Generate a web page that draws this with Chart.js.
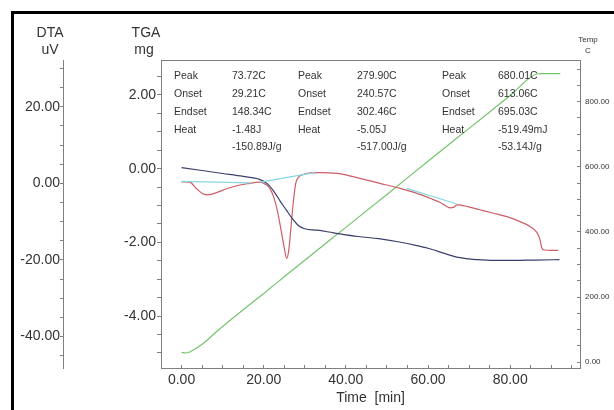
<!DOCTYPE html>
<html>
<head>
<meta charset="utf-8">
<script src="https://cdn.jsdelivr.net/npm/chart.js@4.4.1/dist/chart.umd.min.js"></script>
<style>
  html, body { margin: 0; padding: 0; background: #fff; }
  canvas { display: block; }
</style>
</head>
<body>
<canvas id="chart" width="614" height="410"></canvas>
<script>
// TGA mass loss (mg) against time (min)
const tgaTime = [0, 5, 10, 15, 19, 21, 22.5, 24, 25.5, 27, 28.5, 30, 33, 37, 43, 48, 53, 57, 60, 64, 67, 70, 72, 76, 81, 86, 92];
const tgaMass = [0.03, -0.05, -0.13, -0.21, -0.29, -0.42, -0.62, -0.88, -1.12, -1.36, -1.55, -1.63, -1.67, -1.74, -1.84, -1.90, -1.99, -2.08, -2.16, -2.30, -2.40, -2.45, -2.47, -2.49, -2.49, -2.48, -2.47];

// DTA signal (uV)
const dtaTime = [0, 2, 3.5, 5, 6.2, 8, 11, 14, 16, 19, 20.5, 21.5, 22.5, 23.3, 24.2, 25, 25.6, 26.1, 26.6, 27.2, 27.8, 28.5, 29.6, 31, 33.7, 37.8, 40, 43.4, 48.3, 53.2, 57, 60.5, 63, 65.4, 66.3, 67.1, 68, 72.6, 76, 79.2, 82, 84.9, 86.5, 87.2, 87.7, 88.2, 90, 91.7];
const dtaSignal = [0.4, 0.3, -1.2, -2.6, -3.0, -2.6, -1.4, -0.5, -0.1, 0.3, -0.3, -1.3, -3.8, -7.0, -12.0, -16.8, -19.6, -17.5, -12.0, -5.0, 0.0, 1.6, 2.3, 2.7, 2.8, 2.6, 2.2, 1.3, 0.0, -1.3, -2.5, -3.9, -5.0, -6.4, -6.2, -5.6, -5.7, -6.9, -7.8, -8.7, -9.8, -11.3, -12.8, -14.5, -16.8, -17.4, -17.5, -17.5];

// peak baselines (uV)
const base1Time = [0, 17];
const base1Signal = [0.5, 0.1];
const base2Time = [19.1, 29.6, 32.5];
const base2Signal = [0.3, 2.3, 2.8];
const base3Time = [54.8, 67.0];
const base3Signal = [-1.3, -5.4];

// furnace temperature (C)
const tempTime = [0, 1, 2, 3, 4.5, 6, 8, 12, 16, 20, 25, 30, 40, 50, 60, 70, 80, 86.5, 87.5, 92.2];
const tempValue = [30, 28, 31, 38, 50, 65, 88, 130, 171, 211, 262, 313, 414, 515, 617, 718, 819, 885, 886, 886];

// peak table
const peakLabels = ['Peak', 'Onset', 'Endset', 'Heat', ''];
const peakValues = [
  ['73.72C', '29.21C', '148.34C', '-1.48J', '-150.89J/g'],
  ['279.90C', '240.57C', '302.46C', '-5.05J', '-517.00J/g'],
  ['680.01C', '613.06C', '695.03C', '-519.49mJ', '-53.14J/g']
];

const FONT = '"Liberation Sans", Arial, sans-serif';
const AXIS = '#808080';
const toXY = (xs, ys) => xs.map((x, i) => ({ x, y: ys[i] }));
const onMultiple = (v, m) => Math.abs(v / m - Math.round(v / m)) < 1e-6;

const decor = {
  id: 'decor',
  afterDraw(chart) {
    const { ctx, chartArea, scales } = chart;
    ctx.save();
    // outer frame
    ctx.fillStyle = '#000';
    ctx.fillRect(11, 11, 3, 399);
    ctx.fillRect(11, 11, 603, 3);
    // top edge of plot box
    ctx.strokeStyle = AXIS;
    ctx.lineWidth = 1;
    ctx.beginPath();
    ctx.moveTo(chartArea.left, chartArea.top + 0.5);
    ctx.lineTo(chartArea.right, chartArea.top + 0.5);
    ctx.stroke();

    // axis headers
    ctx.fillStyle = '#333';
    ctx.textAlign = 'center';
    ctx.textBaseline = 'middle';
    ctx.font = '14px ' + FONT;
    ctx.fillText('DTA', scales.dta.right - 13, 33);
    ctx.fillText('uV', scales.dta.right - 13, 50);
    ctx.fillText('TGA', scales.tga.right - 15, 33);
    ctx.fillText('mg', scales.tga.right - 17, 50);
    ctx.font = '8px ' + FONT;
    ctx.fillText('Temp', scales.temp.left + 8, 40);
    ctx.fillText('C', scales.temp.left + 8, 51);

    // peak table
    ctx.textAlign = 'left';
    ctx.font = '10.5px ' + FONT;
    const rowY = [76, 94, 112, 130, 147];
    const colX = [[174, 232], [298, 357], [442, 498]];
    colX.forEach((c, k) => {
      peakLabels.forEach((lab, r) => {
        if (lab) ctx.fillText(lab, c[0], rowY[r]);
        ctx.fillText(peakValues[k][r], c[1], rowY[r]);
      });
    });
    ctx.restore();
  }
};

const lineStyle = { pointRadius: 0, borderWidth: 1.2, fill: false, cubicInterpolationMode: 'monotone' };

new Chart(document.getElementById('chart'), {
  type: 'line',
  data: {
    datasets: [
      { ...lineStyle, label: 'Baseline 1', data: toXY(base1Time, base1Signal), yAxisID: 'dta', borderColor: '#86d8e4' },
      { ...lineStyle, label: 'Baseline 2', data: toXY(base2Time, base2Signal), yAxisID: 'dta', borderColor: '#86d8e4' },
      { ...lineStyle, label: 'Baseline 3', data: toXY(base3Time, base3Signal), yAxisID: 'dta', borderColor: '#86d8e4' },
      { ...lineStyle, label: 'TGA', data: toXY(tgaTime, tgaMass), yAxisID: 'tga', borderColor: '#3c3f6c' },
      { ...lineStyle, label: 'DTA', data: toXY(dtaTime, dtaSignal), yAxisID: 'dta', borderColor: '#cc5e66' },
      { ...lineStyle, label: 'Temp', data: toXY(tempTime, tempValue), yAxisID: 'temp', borderColor: '#74c46c' }
    ]
  },
  options: {
    responsive: false,
    animation: false,
    layout: { padding: { top: 60, left: 0, right: 0, bottom: 0 } },
    plugins: { legend: { display: false }, tooltip: { enabled: false } },
    scales: {
      x: {
        type: 'linear',
        position: 'bottom',
        min: -5,
        max: 97,
        // negative tick length puts the marks inside the plot, as in the source
        grid: { drawOnChartArea: false, drawTicks: true, tickLength: -3, color: AXIS },
        border: { display: true, color: AXIS },
        ticks: {
          stepSize: 5,
          includeBounds: false,
          autoSkip: false,
          maxRotation: 0,
          padding: 7,
          color: '#333',
          font: { family: FONT, size: 14 },
          callback: v => onMultiple(v, 20) ? v.toFixed(2) : ''
        },
        title: { display: true, text: 'Time  [min]', color: '#333', font: { family: FONT, size: 14 }, padding: { top: 0, bottom: 3 } },
        afterFit: s => { s.height = 42; }
      },
      tga: {
        type: 'linear',
        position: 'left',
        weight: 0,
        min: -5.41,
        max: 2.95,
        grid: { drawOnChartArea: false, drawTicks: true, tickLength: 4, color: AXIS },
        border: { display: true, color: AXIS },
        ticks: {
          stepSize: 0.5,
          includeBounds: false,
          autoSkip: false,
          padding: 1,
          color: '#333',
          font: { family: FONT, size: 14 },
          callback: v => onMultiple(v, 2) ? v.toFixed(2) : ''
        },
        afterFit: s => { s.width = 98; }
      },
      dta: {
        type: 'linear',
        position: 'left',
        weight: 1,
        min: -48.2,
        max: 32.2,
        grid: { drawOnChartArea: false, drawTicks: true, tickLength: 3, color: AXIS },
        border: { display: true, color: AXIS },
        ticks: {
          stepSize: 5,
          includeBounds: false,
          autoSkip: false,
          padding: 0,
          color: '#333',
          font: { family: FONT, size: 14 },
          callback: v => onMultiple(v, 20) ? v.toFixed(2) : ''
        },
        afterFit: s => { s.width = 63; }
      },
      temp: {
        type: 'linear',
        position: 'right',
        min: -18,
        max: 928,
        grid: { drawOnChartArea: false, drawTicks: true, tickLength: -3, color: AXIS },
        border: { display: true, color: AXIS },
        ticks: {
          stepSize: 50,
          includeBounds: false,
          autoSkip: false,
          padding: 8,
          color: '#333',
          font: { family: FONT, size: 8 },
          callback: v => onMultiple(v, 200) ? v.toFixed(2) : ''
        },
        afterFit: s => { s.width = 34; }
      }
    }
  },
  plugins: [decor]
});
</script>
</body>
</html>
